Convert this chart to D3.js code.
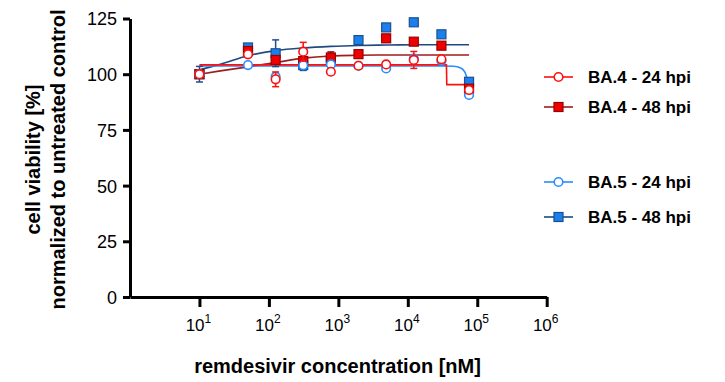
<!DOCTYPE html>
<html>
<head>
<meta charset="utf-8">
<script src="https://cdn.jsdelivr.net/npm/d3@7"></script>
<style>
  body { margin: 0; background: #fff; }
  text { font-family: "Liberation Sans", Arial, sans-serif; fill: #000; }
</style>
</head>
<body>
<div id="chart"></div>
<script>
// remdesivir concentrations (nM), first point is the untreated control shown at 10
var concentrations = [10, 50, 125, 312, 780, 1950, 4880, 12200, 30500, 76200];

// cell viability [%]
var ba4_24 = [100, 108.9, 97.7, 110.1, 101.1, 103.8, 104.4, 106.4, 106.7, 92.9];
var ba4_24_sd = [0, 0, 3.3, 4.2, 0, 0, 0, 3.8, 0, 0];
var ba4_48 = [100, 110.4, 106.4, 105.9, 107.5, 109.0, 116.1, 114.6, 112.8, 93.5];
var ba4_48_sd = [0, 0, 0, 0, 2.5, 0, 0, 0, 0, 0];
var ba5_24 = [100, 104.1, 98.9, 104.0, 104.4, 103.8, 102.6, 107.0, 106.0, 90.7];
var ba5_24_sd = [0, 0, 0, 0, 0, 0, 0, 0, 0, 0];
var ba5_48 = [100, 112.0, 109.4, 104.1, 106.3, 115.3, 121.0, 123.3, 117.9, 96.6];
var ba5_48_sd = [3.5, 0, 6.0, 2.4, 0, 0, 0, 0, 0, 0];

// fitted curves, vertices
var ba4_24_fitX = [10, 36000, 36400, 76200];
var ba4_24_fitY = [104.2, 104.2, 95.3, 95.3];
var ba4_48_fitX = [10, 20, 50, 125, 312, 780, 1950, 4880, 76200];
var ba4_48_fitY = [100, 101.5, 103.3, 105.2, 107.2, 108.2, 108.5, 108.6, 108.6];
var ba5_24_fitX = [10, 30000, 45800, 57800, 66000, 70500, 76200];
var ba5_24_fitY = [103.7, 103.7, 103.6, 102.8, 101.0, 98.6, 93.0];
var ba5_48_fitX = [10, 20, 50, 125, 312, 780, 1950, 4880, 12200, 76200];
var ba5_48_fitY = [102, 104.5, 108.3, 110.6, 111.8, 112.5, 112.9, 113.1, 113.2, 113.2];

var yTicks = [0, 25, 50, 75, 100, 125];
var xTicks = [10, 100, 1000, 10000, 100000, 1000000];

var series = [
    {name: "BA.5 - 48 hpi", y: ba5_48, sd: ba5_48_sd, fx: ba5_48_fitX, fy: ba5_48_fitY,
        shape: "square", line: "#1f4a80", fill: "#1a80ee", stroke: "#1d4f8e", curve: d3.curveMonotoneX},
    {name: "BA.4 - 48 hpi", y: ba4_48, sd: ba4_48_sd, fx: ba4_48_fitX, fy: ba4_48_fitY,
        shape: "square", line: "#9e1c1c", fill: "#ee0000", stroke: "#9a0000", curve: d3.curveMonotoneX},
    {name: "BA.5 - 24 hpi", y: ba5_24, sd: ba5_24_sd, fx: ba5_24_fitX, fy: ba5_24_fitY,
        shape: "circle", line: "#2a8cff", fill: "#fff", stroke: "#2a8cff", curve: d3.curveMonotoneX},
    {name: "BA.4 - 24 hpi", y: ba4_24, sd: ba4_24_sd, fx: ba4_24_fitX, fy: ba4_24_fitY,
        shape: "circle", line: "#ff1010", fill: "#fff", stroke: "#ff1010", curve: d3.curveLinear}
];

var legendOrder = ["BA.4 - 24 hpi", "BA.4 - 48 hpi", "BA.5 - 24 hpi", "BA.5 - 48 hpi"];
var legendY = [77, 107, 182, 217];

var width = 725, height = 382;
var svg = d3.select("#chart").append("svg")
    .attr("width", width)
    .attr("height", height);

var x = d3.scaleLog().domain([1, 1e6]).range([130, 546.7]);
var y = d3.scaleLinear().domain([0, 125]).range([297, 18.5]);

// y axis
var yAxis = svg.append("g").attr("transform", "translate(130,0)")
    .call(d3.axisLeft(y).tickValues(yTicks).tickSize(7).tickSizeOuter(0).tickFormat(d3.format("d")));
yAxis.select(".domain").attr("stroke-width", 3).attr("stroke", "#000");
yAxis.selectAll(".tick line").attr("stroke-width", 3).attr("stroke", "#000");
yAxis.selectAll(".tick text")
    .attr("x", -13)
    .attr("dy", "0.36em")
    .style("font-size", "18px")
    .style("font-family", "'Liberation Sans', Arial, sans-serif");

// x axis
var xAxis = svg.append("g").attr("transform", "translate(0,297)")
    .call(d3.axisBottom(x).tickValues(xTicks).tickSize(10).tickSizeOuter(0).tickFormat(""));
xAxis.select(".domain").attr("stroke-width", 3).attr("stroke", "#000");
xAxis.selectAll(".tick line").attr("stroke-width", 3).attr("stroke", "#000");

var xLab = svg.append("g").selectAll("text").data(xTicks).enter().append("text")
    .attr("x", function (d) { return x(d) - 1; })
    .attr("y", 331)
    .attr("text-anchor", "middle")
    .style("font-size", "17px");
xLab.append("tspan").text("10");
xLab.append("tspan")
    .attr("dy", -8)
    .style("font-size", "12px")
    .text(function (d) { return Math.round(Math.log10(d)); });

// axis titles
svg.append("text")
    .attr("x", 337.5)
    .attr("y", 373)
    .attr("text-anchor", "middle")
    .style("font-size", "20px")
    .style("font-weight", "bold")
    .text("remdesivir concentration [nM]");

var yTitle = svg.append("text")
    .attr("transform", "translate(0,159.5) rotate(-90)")
    .attr("text-anchor", "middle")
    .style("font-size", "20px")
    .style("font-weight", "bold");
yTitle.append("tspan").attr("x", 0).attr("y", 40).text("cell viability [%]");
yTitle.append("tspan").attr("x", 0).attr("y", 65).text("normalized to untreated control");

// fitted curves
var plot = svg.append("g");
series.forEach(function (s) {
    var pts = s.fx.map(function (c, i) { return [x(c), y(s.fy[i])]; });
    plot.append("path")
        .attr("d", d3.line().curve(s.curve)(pts))
        .attr("fill", "none")
        .attr("stroke", s.line)
        .attr("stroke-width", 1.6);
});

function drawMarker(g, shape, cx, cy, s) {
    if (shape == "circle") {
        g.append("circle")
            .attr("cx", cx).attr("cy", cy).attr("r", 4.3)
            .attr("fill", s.fill).attr("stroke", s.stroke).attr("stroke-width", 1.6);
    } else {
        g.append("rect")
            .attr("x", cx - 4.5).attr("y", cy - 4.5)
            .attr("width", 9).attr("height", 9)
            .attr("fill", s.fill).attr("stroke", s.stroke).attr("stroke-width", 1.2);
    }
}

// error bars and points
series.forEach(function (s) {
    var g = plot.append("g");
    concentrations.forEach(function (c, i) {
        var cx = x(c), cy = y(s.y[i]);
        if (s.sd[i] > 0) {
            var y1 = y(s.y[i] + s.sd[i]), y2 = y(s.y[i] - s.sd[i]);
            g.append("line").attr("x1", cx).attr("x2", cx).attr("y1", y1).attr("y2", y2)
                .attr("stroke", s.stroke).attr("stroke-width", 1.5);
            [y1, y2].forEach(function (yy) {
                g.append("line").attr("x1", cx - 3.5).attr("x2", cx + 3.5).attr("y1", yy).attr("y2", yy)
                    .attr("stroke", s.stroke).attr("stroke-width", 1.5);
            });
        }
        drawMarker(g, s.shape, cx, cy, s);
    });
});

// legend
var legend = svg.append("g");
legendOrder.forEach(function (name, i) {
    var s = series.filter(function (d) { return d.name == name; })[0];
    var ly = legendY[i];
    legend.append("line")
        .attr("x1", 544).attr("x2", 573).attr("y1", ly).attr("y2", ly)
        .attr("stroke", s.line).attr("stroke-width", 1.6);
    drawMarker(legend, s.shape, 558.5, ly, s);
    legend.append("text")
        .attr("x", 588)
        .attr("y", ly)
        .attr("dy", "0.36em")
        .style("font-size", "17px")
        .style("font-weight", "bold")
        .text(name);
});
</script>
</body>
</html>
